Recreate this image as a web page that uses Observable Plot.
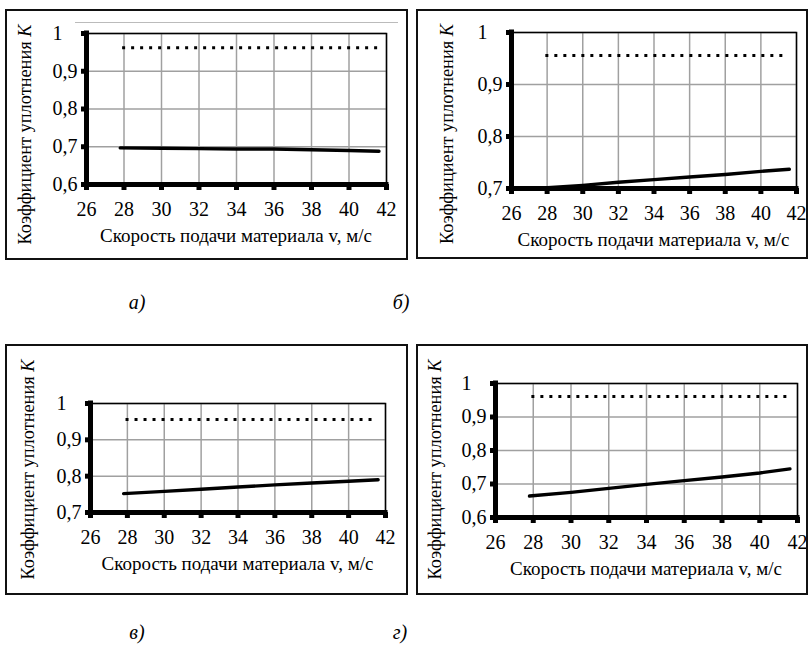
<!DOCTYPE html>
<html>
<head>
<meta charset="utf-8">
<script src="https://cdn.jsdelivr.net/npm/d3@7"></script>
<script src="https://cdn.jsdelivr.net/npm/@observablehq/plot@0.6"></script>
<style>
  html, body { margin: 0; padding: 0; background: #fff; }
  body { position: relative; width: 810px; height: 645px; overflow: hidden; font-family: "Liberation Serif", "Times New Roman", serif; }
  .frame { position: absolute; border: 2px solid #111; box-sizing: border-box; z-index: 5; pointer-events: none; background: transparent; }
  .cap { position: absolute; width: 40px; text-align: center; font-style: italic; font-size: 20px; line-height: 20px; color: #000; font-family: "Liberation Serif", "Times New Roman", serif; }
  .artifact { position: absolute; border-top: 1px solid #bbb; z-index: 4; }
  svg text { font-family: "Liberation Serif", "Times New Roman", serif; }
</style>
</head>
<body>
<script>
// ---- data ----
const xTicks = [26, 28, 30, 32, 34, 36, 38, 40, 42];
const yTicksAD = [0.6, 0.7, 0.8, 0.9, 1];
const yTicksBC = [0.7, 0.8, 0.9, 1];

// feed speed, m/s (solid curves)
const speed = [27.8, 30, 32, 34, 36, 38, 40, 41.6];
const kA = [0.697, 0.696, 0.695, 0.694, 0.694, 0.692, 0.690, 0.688];
const kB = [0.701, 0.706, 0.712, 0.717, 0.722, 0.727, 0.733, 0.737];
const kC = [0.752, 0.758, 0.764, 0.770, 0.776, 0.781, 0.786, 0.790];
const kD = [0.664, 0.675, 0.687, 0.699, 0.710, 0.721, 0.733, 0.745];

// dotted reference lines
const dottedSpeed = [27.9, 41.5];
const kMaxA = [0.962, 0.962];
const kMaxB = [0.956, 0.956];
const kMaxC = [0.956, 0.956];
const kMaxD = [0.961, 0.961];

const xTitle = "Скорость подачи материала v, м/с";
const yTitle = "Коэффициент уплотнения ";
const yVar = "K";
const captions = ["а)", "б)", "в)", "г)"];

// ---- layout ----
const panels = [
  {left: 5,   top: 9,   width: 403, height: 251, mt: 24, mr: 22, mb: 76, ml: 81, yTicks: yTicksAD, solid: kA, dotted: kMaxA, ytx: 20, cap: {x: 137, y: 292}},
  {left: 416, top: 9,   width: 392, height: 250, mt: 23, mr: 12, mb: 71, ml: 95, yTicks: yTicksBC, solid: kB, dotted: kMaxB, ytx: 31, cap: {x: 401, y: 292}},
  {left: 5,   top: 344, width: 403, height: 251, mt: 59, mr: 23, mb: 83, ml: 85, yTicks: yTicksBC, solid: kC, dotted: kMaxC, ytx: 23, cap: {x: 137, y: 622}},
  {left: 416, top: 344, width: 392, height: 251, mt: 39, mr: 11, mb: 78, ml: 79, yTicks: yTicksAD, solid: kD, dotted: kMaxD, ytx: 19, cap: {x: 400, y: 622}}
];

const fmt = d => d === 1 ? "1" : d3.format(".1f")(d).replace(".", ",");
const font = "'Liberation Serif', 'Times New Roman', serif";

panels.forEach((p, idx) => {
  const solid = speed.map((v, i) => ({v, k: p.solid[i]}));
  const dotted = dottedSpeed.map((v, i) => ({v, k: p.dotted[i]}));
  const ymin = p.yTicks[0];
  const plot = Plot.plot({
    width: p.width, height: p.height,
    marginTop: p.mt, marginRight: p.mr, marginBottom: p.mb, marginLeft: p.ml,
    style: {fontFamily: font, background: "transparent", overflow: "visible", color: "#000"},
    x: {domain: [xTicks[0], xTicks[xTicks.length - 1]]},
    y: {domain: [ymin, 1]},
    marks: [
      Plot.gridX(xTicks, {stroke: "#a0a0a0", strokeOpacity: 1, strokeWidth: 1.5}),
      Plot.gridY(p.yTicks, {stroke: "#a0a0a0", strokeOpacity: 1, strokeWidth: 1.5}),
      Plot.frame({stroke: "#000", strokeWidth: 1.5}),
      Plot.line(dotted, {x: "v", y: "k", stroke: "#000", strokeWidth: 3, strokeDasharray: "3,6", strokeLinecap: "butt"}),
      Plot.line(solid, {x: "v", y: "k", stroke: "#000", strokeWidth: 3.4}),
      Plot.ruleX([xTicks[0]], {stroke: "#000", strokeWidth: 5, strokeLinecap: "square"}),
      Plot.ruleY([ymin], {stroke: "#000", strokeWidth: 5, strokeLinecap: "square"}),
      Plot.axisX(xTicks, {tickSize: 6, strokeWidth: 5, tickPadding: 11, fontSize: 20, fontFamily: font, label: null, fill: "#000", stroke: "#000"}),
      Plot.axisY(p.yTicks, {tickSize: 5, strokeWidth: 5, fill: "none", stroke: "#000", label: null}),
      Plot.axisY(p.yTicks, {tickSize: 0, tickPadding: 0, textAnchor: "start", dx: -34, fontSize: 20, fontFamily: font, tickFormat: fmt, label: null, fill: "#000"})
    ]
  });
  plot.setAttribute("font-family", font);
  plot.style.fontFamily = font;
  plot.style.position = "absolute";
  plot.style.left = p.left + "px";
  plot.style.top = p.top + "px";
  plot.style.maxWidth = "none";

  const svg = d3.select(plot);
  const cx = p.ml + (p.width - p.ml - p.mr) / 2;
  svg.append("text")
    .attr("x", cx).attr("y", p.height - p.mb + 58)
    .attr("text-anchor", "middle").attr("font-size", 18).attr("fill", "#000")
    .attr("font-family", font)
    .attr("textLength", 272).attr("lengthAdjust", "spacingAndGlyphs")
    .text(xTitle);
  const t = svg.append("text")
    .attr("transform", `translate(${p.ytx},${p.height / 2}) rotate(-90)`)
    .attr("text-anchor", "middle").attr("dy", "0.35em").attr("font-size", 18).attr("fill", "#000")
    .attr("font-family", font)
    .attr("textLength", 220).attr("lengthAdjust", "spacingAndGlyphs");
  t.append("tspan").text(yTitle);
  t.append("tspan").attr("font-style", "italic").text(yVar);
  document.body.appendChild(plot);

  const fr = document.createElement("div");
  fr.className = "frame";
  Object.assign(fr.style, {left: p.left + "px", top: p.top + "px", width: p.width + "px", height: p.height + "px"});
  document.body.appendChild(fr);

  const cap = document.createElement("div");
  cap.className = "cap";
  cap.textContent = captions[idx];
  Object.assign(cap.style, {left: (p.cap.x - 20) + "px", top: p.cap.y + "px"});
  document.body.appendChild(cap);
});

// thin grey scan line above panel a
const art = document.createElement("div");
art.className = "artifact";
Object.assign(art.style, {left: "75px", top: "22px", width: "323px"});
document.body.appendChild(art);
</script>
</body>
</html>
